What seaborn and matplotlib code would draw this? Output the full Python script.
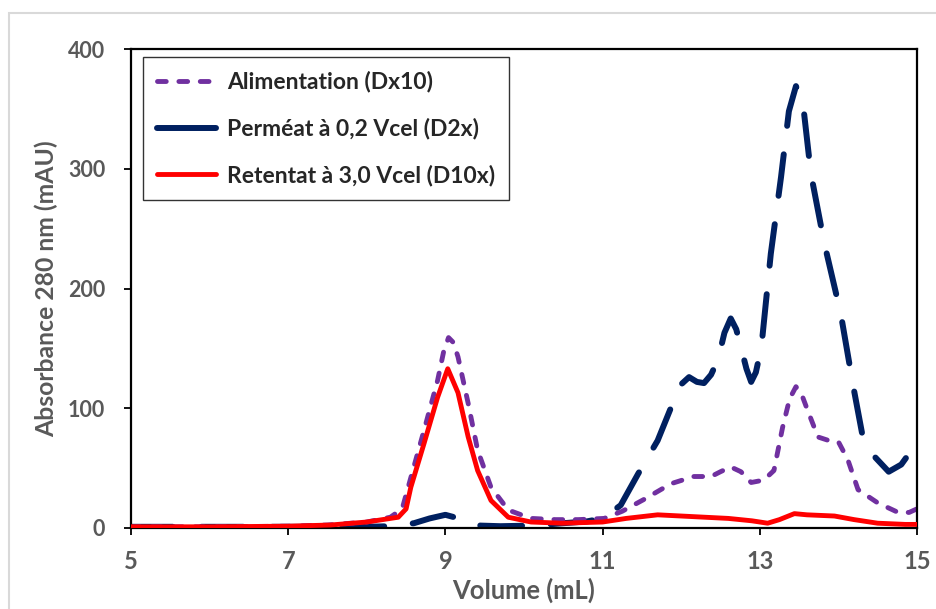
import matplotlib
matplotlib.use("Agg")
import matplotlib.pyplot as plt
import seaborn as sns
import pandas as pd
from matplotlib.patches import Rectangle
from matplotlib.lines import Line2D

# ---- data ----
alim_x = [5.0, 6.0, 7.0, 7.5, 8.0, 8.3, 8.45, 8.56, 8.73, 8.90, 8.98, 9.04, 9.10, 9.16, 9.29,
          9.41, 9.58, 9.80, 10.09, 10.4, 10.69, 11.02, 11.25, 11.53, 11.87, 12.16, 12.38, 12.5,
          12.63, 12.76, 12.89, 13.05, 13.18, 13.29, 13.38, 13.46, 13.53, 13.61, 13.74, 13.88,
          14.0, 14.12, 14.25, 14.5, 14.76, 14.9, 15.0]
alim_y = [1, 1, 1.5, 2.5, 5, 9, 16, 42, 82, 123, 148, 159, 155, 143, 104,
          65, 34, 15, 8, 7, 7, 8, 14, 24, 37, 43, 43, 47,
          51, 47, 38, 40, 48, 84, 108, 118, 112, 98, 76, 73,
          72, 57, 32, 21, 13, 13, 16]

perm_x = [5.0, 6.0, 7.0, 8.0, 8.3, 8.6, 8.8, 9.0, 9.17, 9.3, 9.45, 9.7, 10.1, 10.5, 10.8, 11.0,
          11.23, 11.45, 11.70, 11.91, 12.0, 12.10, 12.2, 12.29, 12.38, 12.47, 12.55, 12.63, 12.7,
          12.76, 12.83, 12.89, 12.95, 13.02, 13.14, 13.27, 13.37, 13.46, 13.55, 13.65, 13.82,
          14.03, 14.19, 14.31, 14.44, 14.64, 14.8, 14.92, 15.0]
perm_y = [1, 1, 1, 1, 1.5, 4, 8, 11, 8, 4, 2, 1.5, 2, 4, 5.5, 8,
          19, 45, 73, 107, 120, 126, 122, 121, 128, 141, 163, 175, 166,
          151, 133, 122, 130, 151, 229, 293, 348, 369, 354, 296, 238,
          179, 118, 76, 61, 47, 53, 64, 76]

ret_x = [5.0, 6.0, 7.0, 7.54, 8.0, 8.40, 8.50, 8.56, 8.73, 8.90, 9.03, 9.16, 9.29, 9.41, 9.58,
         9.80, 10.09, 10.48, 11.0, 11.3, 11.7, 12.0, 12.3, 12.6, 12.9, 13.1, 13.25, 13.44, 13.6,
         13.95, 14.2, 14.5, 14.85, 15.0]
ret_y = [1, 1, 1.5, 2.5, 5, 9, 16, 34, 71, 109, 133, 113, 76, 48, 23,
         9, 5, 4, 5, 8, 11, 10, 9, 8, 6, 4, 7, 12, 11,
         10, 7, 4, 3, 3]

labels = ["Alimentation (Dx10)", "Perméat à 0,2 Vcel (D2x)", "Retentat à 3,0 Vcel (D10x)"]
x_ticks = [5, 7, 9, 11, 13, 15]
y_ticks = [0, 100, 200, 300, 400]

sns.set_theme(style="white")
plt.rcParams['font.family'] = ['Lato', 'DejaVu Sans']

fig = plt.figure(figsize=(9.37, 6.09), dpi=100)
ax = fig.add_axes([131/937, 1 - 528/609, (917-131)/937, (528-49)/609])

GRAY = "#595959"
c_alim, c_perm, c_ret = "#7030A0", "#002060", "#FF0000"
ALIM_LW, ALIM_DASH = 3.5, [1.8, 2.6]

df_a = pd.DataFrame({"x": alim_x, "y": alim_y})
df_p = pd.DataFrame({"x": perm_x, "y": perm_y})
df_r = pd.DataFrame({"x": ret_x, "y": ret_y})

sns.lineplot(data=df_p, x="x", y="y", ax=ax, color=c_perm, lw=4.3, sort=False,
             estimator=None, legend=False)
sns.lineplot(data=df_a, x="x", y="y", ax=ax, color=c_alim, lw=ALIM_LW, sort=False,
             estimator=None, legend=False)
sns.lineplot(data=df_r, x="x", y="y", ax=ax, color=c_ret, lw=3.5, sort=False,
             estimator=None, legend=False)

lines = ax.get_lines()
perm_line, alim_line, ret_line = lines[0], lines[1], lines[2]
perm_line.set_dashes([7.0, 4.8])
perm_line.set_dash_capstyle("round")
alim_line.set_dashes(ALIM_DASH)
alim_line.set_dash_capstyle("round")
ret_line.set_solid_capstyle("round")
ret_line.set_zorder(3)
alim_line.set_zorder(2.5)

ax.set_xlim(5, 15)
ax.set_ylim(0, 400)
ax.set_xticks(x_ticks)
ax.set_yticks(y_ticks)
ax.set_xticklabels([str(v) for v in x_ticks], fontsize=17, fontweight="bold", color=GRAY)
ax.set_yticklabels([str(v) for v in y_ticks], fontsize=15.5, fontweight="bold", color=GRAY)
ax.tick_params(axis="both", direction="out", length=5, width=1.3, color="black",
               bottom=True, left=True)
ax.tick_params(axis="y", pad=13.5)
ax.tick_params(axis="x", pad=11)
for s in ax.spines.values():
    s.set_visible(True)
    s.set_color("black")
    s.set_linewidth(1.6)

ax.set_xlabel("Volume (mL)", fontsize=18.4, fontweight="bold", color=GRAY, labelpad=3)
ax.set_ylabel("Absorbance 280 nm (mAU)", fontsize=17.8, fontweight="bold", color=GRAY,
              labelpad=7)

# legend
h_alim = Line2D([], [], color=c_alim, lw=ALIM_LW, dashes=ALIM_DASH, dash_capstyle="round")
h_perm = Line2D([], [], color=c_perm, lw=4.3, solid_capstyle="round")
h_ret = Line2D([], [], color=c_ret, lw=3.5, solid_capstyle="round")
leg = ax.legend([h_alim, h_perm, h_ret], labels, loc="upper left",
                bbox_to_anchor=(0.0153, 0.983), borderaxespad=0, frameon=True,
                fancybox=False, shadow=False, handlelength=2.6, handletextpad=0.45,
                labelspacing=1.1, borderpad=0.6,
                prop={"family": ["Lato", "DejaVu Sans"], "weight": "bold", "size": 16.5})
leg.get_frame().set_edgecolor("black")
leg.get_frame().set_linewidth(1.0)

# outer chart-area border (light gray)
fig.patches.append(Rectangle((9/937, -0.1), 1.2, 1 - 13/609 + 0.1, transform=fig.transFigure,
                             fill=False, edgecolor="#D9D9D9", lw=1.5))

fig.savefig("out.png", dpi=100)
